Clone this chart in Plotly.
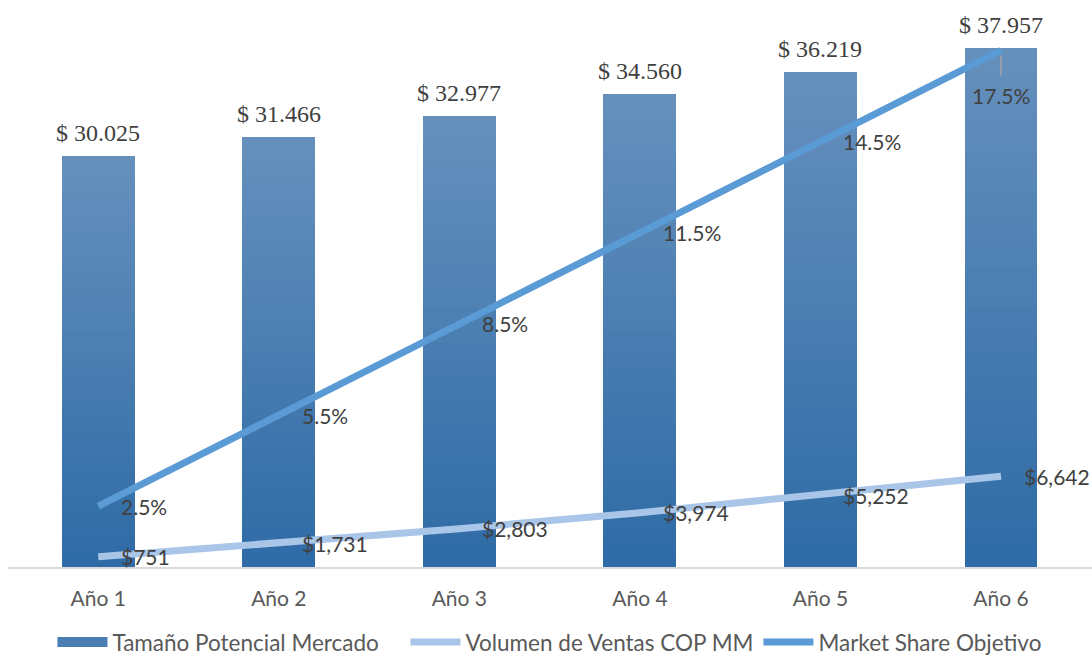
import plotly.graph_objects as go

# ---- data ----
categories = ["Año 1", "Año 2", "Año 3", "Año 4", "Año 5", "Año 6"]
market_size = [30025, 31466, 32977, 34560, 36219, 37957]          # Tamaño Potencial Mercado
sales_volume = [751, 1731, 2803, 3974, 5252, 6642]                 # Volumen de Ventas COP MM
market_share = [0.025, 0.055, 0.085, 0.115, 0.145, 0.175]          # Market Share Objetivo

# ---- styles ----
TOP_RGB = (101, 144, 188)
BOT_RGB = (47, 107, 166)
N_SLICES = 40
LABEL_FONT = dict(family="Lato, 'Open Sans', sans-serif", size=21, color="#404040")
AXIS_FONT = dict(family="Lato, 'Open Sans', sans-serif", size=21, color="#595959")
LEGEND_FONT = dict(family="Lato, 'Open Sans', sans-serif", size=22.5, color="#595959")
SERIF_FONT = dict(family="'Liberation Serif', 'DejaVu Serif', serif", size=24, color="#404040")


def lerp(a, b, t):
    return tuple(round(a[i] + (b[i] - a[i]) * t) for i in range(3))


fig = go.Figure()

# bars drawn as a vertical gradient: each bar split into equal stacked slices
for i in range(N_SLICES):
    t = i / (N_SLICES - 1)
    r, g, b = lerp(BOT_RGB, TOP_RGB, t)
    fig.add_trace(go.Bar(
        x=categories,
        y=[v / N_SLICES for v in market_size],
        marker=dict(color=f"rgb({r},{g},{b})", line=dict(width=0)),
        name="Tamaño Potencial Mercado",
        legendgroup="bars",
        showlegend=False,
        hoverinfo="skip",
    ))

# legend key for the bars (wide swatch like the original)
fig.add_trace(go.Scatter(
    x=[None], y=[None], mode="lines",
    line=dict(color="rgb(74,126,178)", width=12),
    name="Tamaño Potencial Mercado", legendgroup="bars", legendrank=1,
))

fig.add_trace(go.Scatter(
    x=categories, y=sales_volume, mode="lines",
    line=dict(color="#A9C5E8", width=7),
    name="Volumen de Ventas COP MM", legendrank=2,
))

fig.add_trace(go.Scatter(
    x=categories, y=market_share, mode="lines", yaxis="y2",
    line=dict(color="#5B9BD5", width=7),
    name="Market Share Objetivo", legendrank=3,
))

annotations = []
for c, v in zip(categories, market_size):
    annotations.append(dict(
        x=c, y=v, xref="x", yref="y", text="$ " + f"{v:,}".replace(",", "."),
        showarrow=False, yanchor="bottom", yshift=8, font=SERIF_FONT,
    ))
for c, v in zip(categories, sales_volume):
    annotations.append(dict(
        x=c, y=v, xref="x", yref="y", text=f"${v:,}",
        showarrow=False, xanchor="left", yanchor="middle", xshift=21, font=LABEL_FONT,
    ))
for k, (c, v) in enumerate(zip(categories, market_share)):
    if k < len(categories) - 1:
        annotations.append(dict(
            x=c, y=v, xref="x", yref="y2", text=f"{v*100:.1f}%",
            showarrow=False, xanchor="left", yanchor="middle", xshift=21, font=LABEL_FONT,
        ))
    else:
        annotations.append(dict(
            x=c, y=v, xref="x", yref="y2", text=f"{v*100:.1f}%",
            showarrow=True, arrowhead=0, arrowwidth=1.5, arrowcolor="#A6A6A6",
            ax=0, ay=45, standoff=5, startstandoff=6, font=LABEL_FONT,
        ))

fig.update_layout(
    width=1092, height=659,
    margin=dict(l=8, r=0, t=20, b=92, autoexpand=False),
    paper_bgcolor="white", plot_bgcolor="white",
    barmode="stack", bargap=0.596,
    showlegend=True,
    legend=dict(orientation="h", x=0.041, xanchor="left", y=-0.138, yanchor="middle",
                font=LEGEND_FONT, traceorder="normal", itemwidth=50,
                entrywidth=288, entrywidthmode="pixels",
                bgcolor="rgba(0,0,0,0)"),
    xaxis=dict(showline=True, linecolor="#D9D9D9", linewidth=1.5, showgrid=False,
               ticks="", tickfont=AXIS_FONT, ticklabelstandoff=12, zeroline=False),
    yaxis=dict(range=[0, 40000], visible=False, showgrid=False, zeroline=False),
    yaxis2=dict(range=[0.005, 0.185], overlaying="y", side="right", visible=False,
                showgrid=False, zeroline=False),
    annotations=annotations,
)

fig.write_html("out.html")
